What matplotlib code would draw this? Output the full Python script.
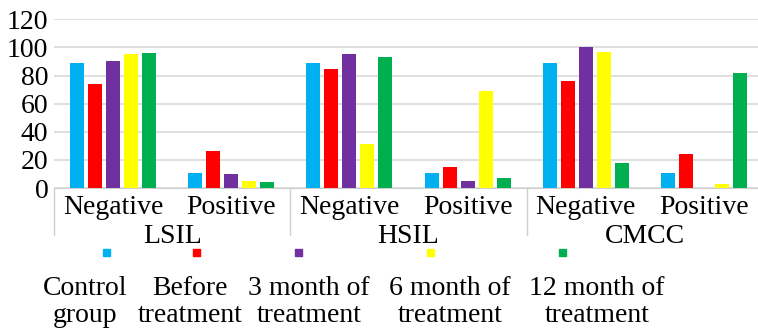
import numpy as np
import matplotlib.pyplot as plt
from matplotlib.patches import Rectangle

plt.rcParams['font.family'] = 'Liberation Serif'

groups = ['LSIL', 'HSIL', 'CMCC']
results = ['Negative', 'Positive']
series = ['Control\ngroup', 'Before\ntreatment', '3 month of\ntreatment',
          '6 month of\ntreatment', '12 month of\ntreatment']
colors = ['#00B0F0', '#FF0000', '#7030A0', '#FFFF00', '#00B050']

# order: LSIL neg, LSIL pos, HSIL neg, HSIL pos, CMCC neg, CMCC pos
control = [89, 11, 89, 11, 89, 11]
before = [74, 26, 85, 15, 76, 24]
month3 = [90, 10, 95, 5, 100, 0]
month6 = [95, 5, 31, 69, 97, 3]
month12 = [96, 4, 93, 7, 18, 82]
values = [control, before, month3, month6, month12]

W, H = 758, 329
fs = 20
fig = plt.figure(figsize=(W / 100, H / 100), dpi=100)
ax = fig.add_axes([54 / W, 141 / H, 709 / W, 168.7 / H])

x = np.arange(len(control))
width = 0.119
step = 0.1525
for i, (vals, c) in enumerate(zip(values, colors)):
    ax.bar(x + (i - 2) * step, vals, width, color=c, zorder=3)

ax.set_xlim(-0.5, 5.5)
ax.set_ylim(0, 120)
ax.set_yticks(range(0, 121, 20))
ax.yaxis.grid(True, color='#d9d9d9', lw=1.2, zorder=0)
ax.tick_params(axis='y', length=0, labelsize=fs, pad=4)
for s in ['left', 'right', 'top']:
    ax.spines[s].set_visible(False)
ax.spines['bottom'].set_color('#cfcfcf')

ax.set_xticks(x)
ax.set_xticklabels(results * 3, fontsize=fs)
ax.tick_params(axis='x', length=0, pad=5)

tr = ax.get_xaxis_transform()
for g, name in enumerate(groups):
    ax.text(2 * g + 0.5, -0.285, name, transform=tr, ha='center', va='center',
            fontsize=fs)
for xb in [-0.5, 1.5, 3.5]:
    ax.plot([xb, xb], [0, -0.28], transform=tr, color='#cfcfcf', lw=1,
            clip_on=False)

# legend: marker above, label below
mark_x = [106, 196.5, 298.5, 430, 562]
text_x = [85, 190, 309, 450, 597]
for mx, tx, c, lab in zip(mark_x, text_x, colors, series):
    fig.patches.append(Rectangle(((mx - 3.5) / W, 1 - 255.5 / H), 7 / W, 7 / H,
                                 transform=fig.transFigure, color=c))
    fig.text(tx / W, 1 - 302 / H, lab, ha='center', va='center',
             fontsize=fs, linespacing=1.1)

fig.savefig('out.png', dpi=100)
